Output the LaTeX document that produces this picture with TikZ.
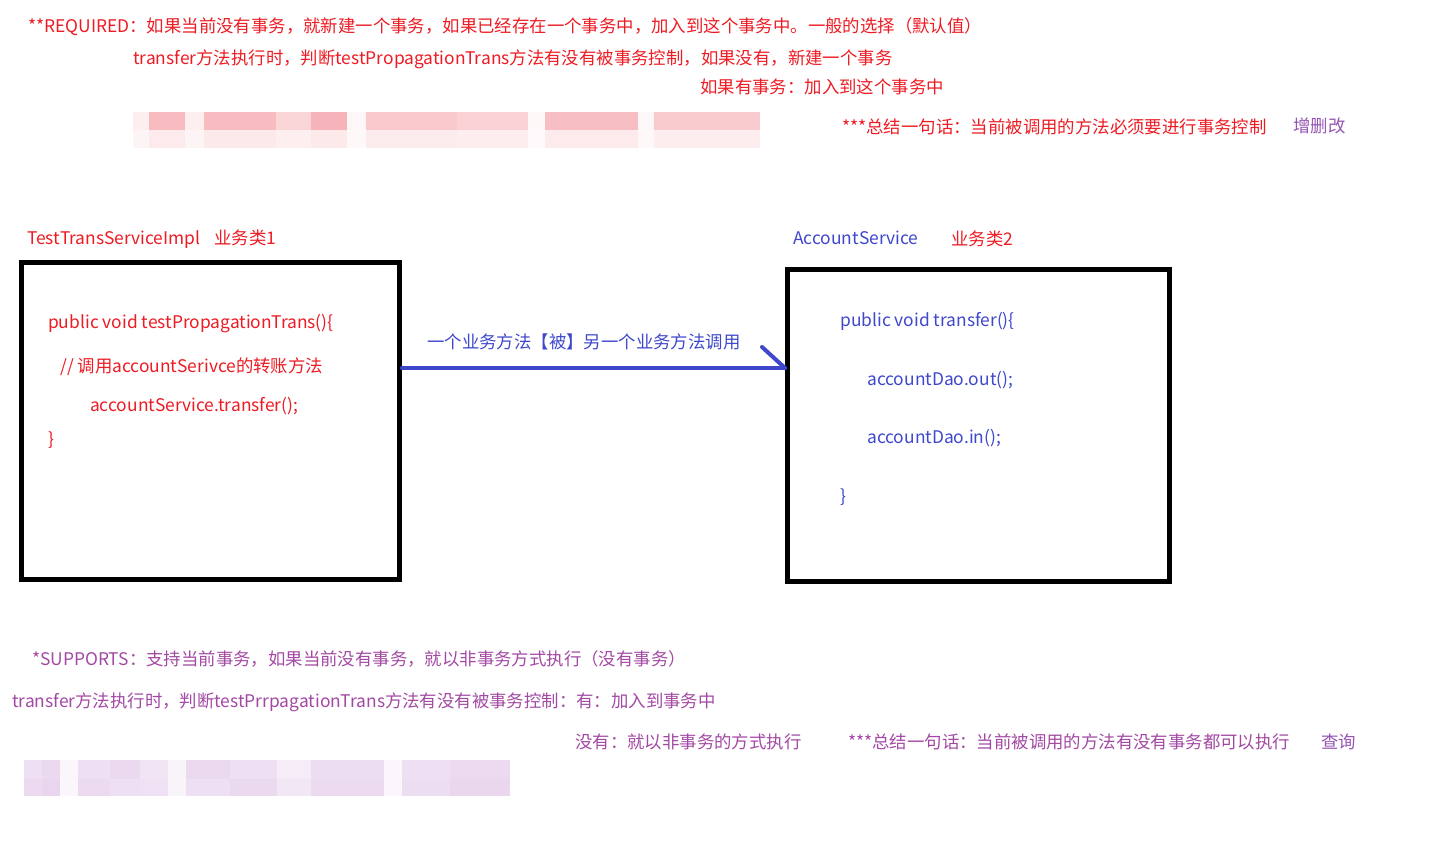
\documentclass[tikz,border=0pt]{standalone}
\usepackage{fontspec}
\setmainfont{Noto Sans CJK SC}
\definecolor{pred}{RGB}{237,28,36}
\definecolor{pblue}{RGB}{63,72,204}
\definecolor{ppurple}{RGB}{163,73,164}
\definecolor{plav}{RGB}{150,85,180}
\definecolor{mospink}{RGB}{240,120,130}
\definecolor{mospurple}{RGB}{200,150,212}
\tikzset{
  txt/.style={anchor=base west, inner sep=0pt, font=\fontsize{17.4}{20}\selectfont},
  redtxt/.style={txt, text=pred},
  bluetxt/.style={txt, text=pblue},
  purtxt/.style={txt, text=ppurple},
  lavtxt/.style={txt, text=plav},
  codebox/.style={draw=black, line width=5pt, inner sep=0pt},
  callline/.style={draw=pblue, line width=4pt, line cap=round},
}
\begin{document}
\begin{tikzpicture}[x=1pt,y=-1pt]
\useasboundingbox[fill=white] (0,0) rectangle (1455,846);

% top notes
\node[redtxt] (req) at (28,32) {**REQUIRED：如果当前没有事务，就新建一个事务，如果已经存在一个事务中，加入到这个事务中。一般的选择（默认值）};
\node[redtxt] (req2) at (133,64) {transfer方法执行时，判断testPropagationTrans方法有没有被事务控制，如果没有，新建一个事务};
\node[redtxt] (req3) at (700,93) {如果有事务：加入到这个事务中};
\node[redtxt] (req4) at (842,133) {***总结一句话：当前被调用的方法必须要进行事务控制};
\node[lavtxt] (req5) at (1293,132) {增删改};

% pink mosaic
\foreach \a/\b/\o in {133/149/0.12,149/185/0.5,185/204/0.12,204/276/0.5,276/311/0.3,311/347/0.55,347/366/0.06,366/457/0.4,457/528/0.33,528/545/0.05,545/638/0.48,638/654/0.06,654/760/0.38}
  \fill[mospink, opacity=\o] (\a,112) rectangle (\b,130);
\foreach \a/\b/\o in {133/149/0.08,149/185/0.15,185/204/0.08,204/276/0.16,276/311/0.12,311/347/0.16,347/366/0.05,366/457/0.14,457/528/0.13,528/545/0.04,545/638/0.15,638/654/0.05,654/760/0.13}
  \fill[mospink, opacity=\o] (\a,130) rectangle (\b,148);

% class titles
\node[redtxt] (t1) at (27,244) {TestTransServiceImpl\hspace{14pt}业务类1};
\node[bluetxt] (t2) at (793,244) {AccountService};
\node[redtxt] (t3) at (951,245) {业务类2};

% boxes
\node[codebox, minimum width=378pt, minimum height=317pt] (box1) at (210.5,421) {};
\node[codebox, minimum width=382pt, minimum height=312pt] (box2) at (978.5,425.5) {};

% code in box 1
\node[redtxt] (c11) at (48,328) {public void testPropagationTrans()\{};
\node[redtxt] (c12) at (60,372) {// 调用accountSerivce的转账方法};
\node[redtxt] (c13) at (90,411) {accountService.transfer();};
\node[redtxt] (c14) at (48,445) {\}};

% code in box 2
\node[bluetxt] (c21) at (840,326) {public void transfer()\{};
\node[bluetxt] (c22) at (867,385) {accountDao.out();};
\node[bluetxt] (c23) at (867,443) {accountDao.in();};
\node[bluetxt] (c24) at (840,502) {\}};

% call connector
\coordinate (lvl) at (0,368);
\draw[callline] (box1.east |- lvl) -- (box2.west |- lvl);
\draw[callline] (box2.west |- lvl) -- ++(-23,-21);
\node[bluetxt] (lbl) at (427,348) {一个业务方法【被】另一个业务方法调用};

% bottom notes
\node[purtxt] (sup) at (32,665) {*SUPPORTS：支持当前事务，如果当前没有事务，就以非事务方式执行（没有事务）};
\node[purtxt] (sup2) at (12,707) {transfer方法执行时，判断testPrrpagationTrans方法有没有被事务控制：有：加入到事务中};
\node[purtxt] (sup3) at (575,748) {没有：就以非事务的方式执行};
\node[purtxt] (sup4) at (848,748) {***总结一句话：当前被调用的方法有没有事务都可以执行};
\node[lavtxt] (sup5) at (1321,748) {查询};

% purple mosaic
\foreach \a/\b/\o in {24/42/0.3,42/60/0.36,60/78/0.08,78/110/0.3,110/140/0.35,140/168/0.25,168/186/0.1,186/230/0.36,230/277/0.3,277/311/0.18,311/384/0.32,384/402/0.08,402/450/0.3,450/510/0.34}
  \fill[mospurple, opacity=\o] (\a,760) rectangle (\b,779);
\foreach \a/\b/\o in {24/42/0.34,42/60/0.4,60/78/0.08,78/110/0.34,110/140/0.3,140/168/0.28,168/186/0.1,186/230/0.3,230/277/0.36,277/311/0.22,311/384/0.34,384/402/0.08,402/450/0.32,450/510/0.38}
  \fill[mospurple, opacity=\o] (\a,779) rectangle (\b,796);
\end{tikzpicture}
\end{document}
